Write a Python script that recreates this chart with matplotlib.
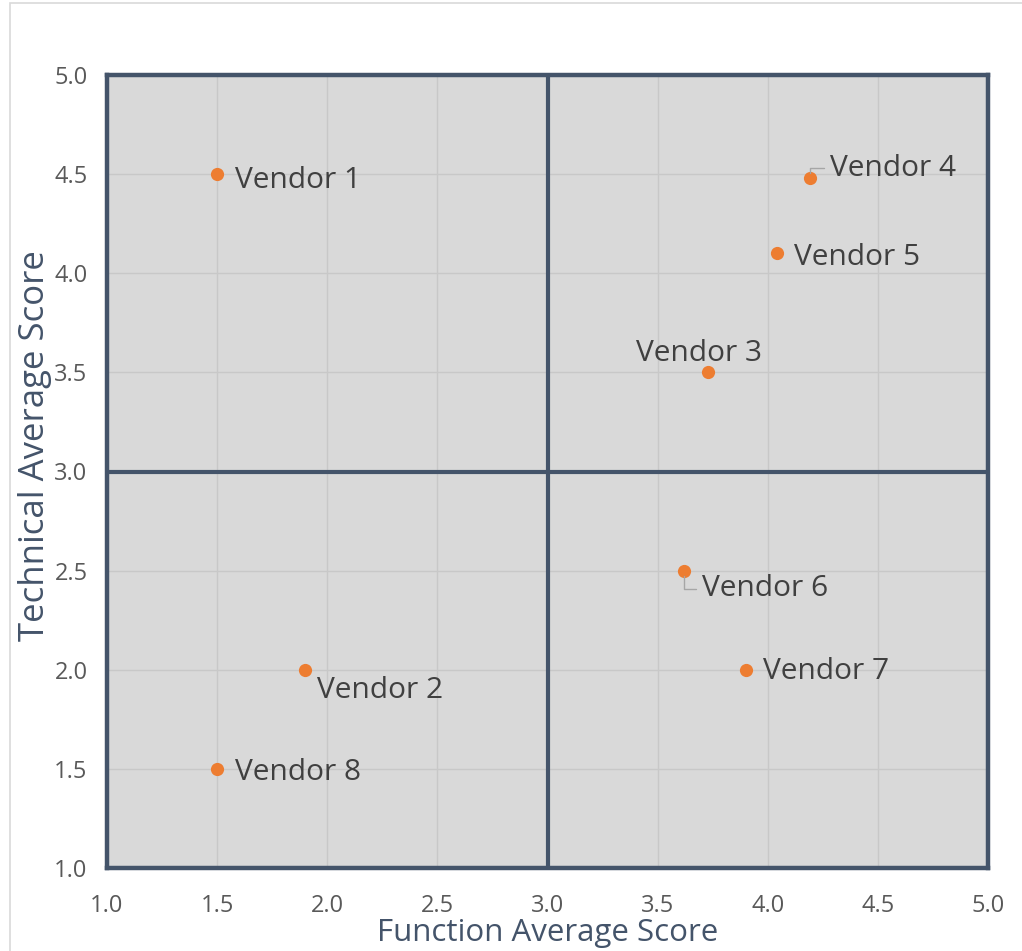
import matplotlib.pyplot as plt
from matplotlib.patches import Rectangle

vendors = ["Vendor 1", "Vendor 2", "Vendor 3", "Vendor 4",
           "Vendor 5", "Vendor 6", "Vendor 7", "Vendor 8"]
function_score = [1.5, 1.9, 3.73, 4.19, 4.04, 3.62, 3.9, 1.5]
technical_score = [4.5, 2.0, 3.5, 4.48, 4.1, 2.5, 2.0, 1.5]

# label offsets in pixels and alignment, plus whether a leader line is drawn
label_pos = [
    (18, -6, "left", False),
    (12, -21, "left", False),
    (-9, 19, "center", False),
    (20, 10, "left", True),
    (17, -4, "left", False),
    (18, -18, "left", True),
    (17, -2, "left", False),
    (18, -4, "left", False),
]

slate = "#44546A"
tick_grey = "#595959"
font = "Open Sans"

fig = plt.figure(figsize=(10.22, 9.51), dpi=100, facecolor="white")
fig.patches.append(Rectangle((10 / 1022, -0.01), 1.0, 1.0 - 3 / 951 + 0.01,
                             transform=fig.transFigure, fill=False,
                             edgecolor="#D9D9D9", linewidth=1.2))

ax = fig.add_axes([107 / 1022, 83 / 951, 881 / 1022, 793 / 951])
ax.set_facecolor("#D9D9D9")
ax.set_xlim(1.0, 5.0)
ax.set_ylim(1.0, 5.0)
ticks = [1.0, 1.5, 2.0, 2.5, 3.0, 3.5, 4.0, 4.5, 5.0]
ax.set_xticks(ticks)
ax.set_yticks(ticks)
ax.set_xticklabels([f"{t:.1f}" for t in ticks])
ax.set_yticklabels([f"{t:.1f}" for t in ticks])
ax.grid(True, color="#C8C8C8", linewidth=1.0)
ax.set_axisbelow(True)
ax.tick_params(length=0, labelsize=17, labelcolor=tick_grey)
ax.tick_params(axis="x", pad=19)
ax.tick_params(axis="y", pad=14)
for lab in ax.get_xticklabels() + ax.get_yticklabels():
    lab.set_fontfamily(font)

for s in ax.spines.values():
    s.set_color(slate)
    s.set_linewidth(3.2)

# quadrant dividers
ax.axvline(3.0, color=slate, linewidth=3.0, zorder=2)
ax.axhline(3.0, color=slate, linewidth=3.0, zorder=2)

ax.plot(function_score, technical_score, "o", color="#ED7D31",
        markersize=9.5, markeredgewidth=0, zorder=4)

for name, x, y, (dx, dy, ha, leader) in zip(vendors, function_score,
                                            technical_score, label_pos):
    arrow = None
    if leader:
        arrow = dict(arrowstyle="-", color="#A6A6A6", linewidth=1.0,
                     shrinkA=2, shrinkB=4, relpos=(0, 0.5),
                     connectionstyle="angle,angleA=0,angleB=90,rad=0")
    ax.annotate(name, (x, y), xytext=(dx, dy), textcoords="offset pixels",
                ha=ha, va="center", fontsize=21.5, color="#404040",
                fontfamily=font, arrowprops=arrow, zorder=5)

ax.set_xlabel("Function Average Score", fontsize=22.5, color=slate,
              fontfamily=font, labelpad=0)
ax.set_ylabel("Technical Average Score", fontsize=25, color=slate,
              fontfamily=font)
ax.yaxis.set_label_coords(-0.062, 0.533)

fig.savefig("out.png", dpi=100)
